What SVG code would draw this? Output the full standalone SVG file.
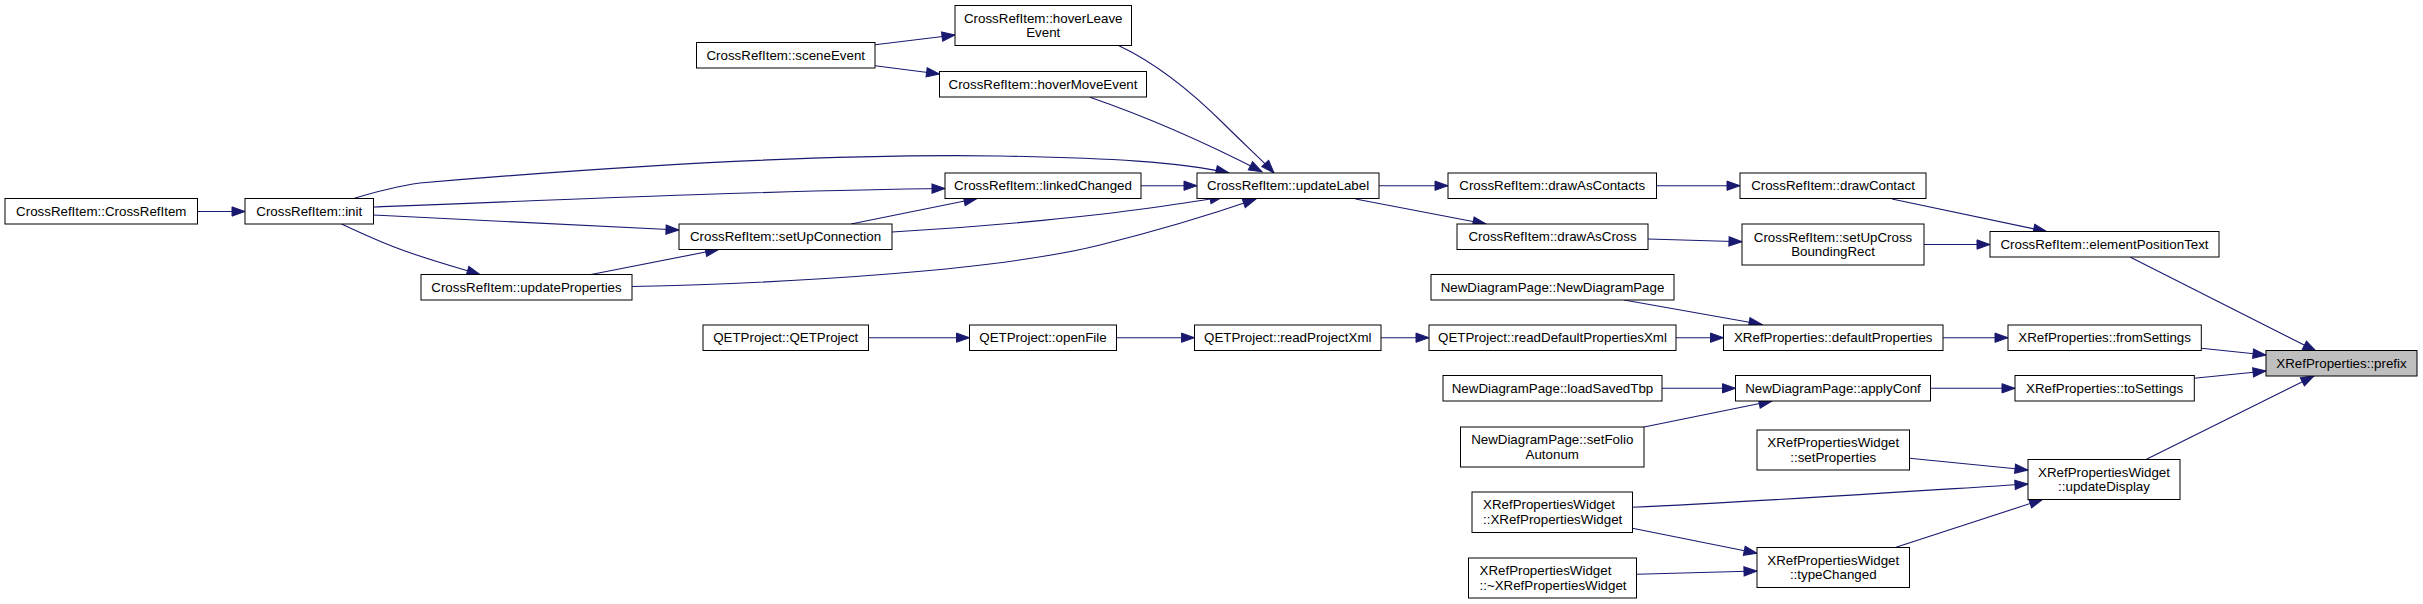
<svg xmlns="http://www.w3.org/2000/svg" width="2423" height="604" viewBox="0 0 2423 604">
<style>
.n rect{fill:#fff;stroke:#000;stroke-width:1}
.n.hl rect{fill:#bfbfbf}
.n text{font-family:"Liberation Sans",Arial,sans-serif;font-size:13.33px;fill:#000;text-anchor:middle}
.n text.l{text-anchor:start}
.e path{fill:none;stroke:#191970;stroke-width:1.1;marker-end:url(#ah)}
</style>
<defs>
<marker id="ah" markerUnits="userSpaceOnUse" markerWidth="14" markerHeight="10" viewBox="0 0 14 10" refX="13" refY="4.65" orient="auto" overflow="visible">
<path d="M0,0 L13,4.65 L0,9.3 z" fill="#191970" stroke="#191970" stroke-width="1"/>
</marker>
</defs>
<rect width="2423" height="604" fill="#fff"/>
<g id="edges" class="e">
<path d="M197.5,211.5 L245,211.5"/>
<path d="M352,199 C375,192 398,186 420,183 C560,171 800,153 1000,156 C1110,158 1180,162 1229,173"/>
<path d="M373.5,207 C600,198 800,190 945,188.5"/>
<path d="M373.5,215 C520,222 620,228 679,230"/>
<path d="M341.5,224 C365,235 385,244 405,251 C430,260 455,267 480,274.5"/>
<path d="M591,274.5 L718.5,249.5"/>
<path d="M632,286.5 C800,283 1000,270 1100,245 C1180,225 1230,208 1256,199"/>
<path d="M851,224 L977,198.5"/>
<path d="M892,232 C1000,226 1100,215 1150,208 C1185,203 1205,200 1223,196.7"/>
<path d="M1141,185.7 L1197,185.7"/>
<path d="M875,44.7 L955,35"/>
<path d="M875,65.7 L939.5,74"/>
<path d="M1119,45.7 C1160,65 1195,95 1225,125 C1245,145 1262,160 1274,173"/>
<path d="M1090,97.3 C1150,118 1210,145 1262,171.7"/>
<path d="M1379,185.7 L1448,185.7"/>
<path d="M1355.5,199 L1486,224"/>
<path d="M1656.5,185.7 L1740,185.7"/>
<path d="M1648,239 L1742,241.7"/>
<path d="M1892,199 L2046.5,231.5"/>
<path d="M1924,244.5 L1990,244.5"/>
<path d="M2130.5,257.3 L2316,351"/>
<path d="M868.5,337.7 L969.5,337.7"/>
<path d="M1116.5,337.7 L1194.5,337.7"/>
<path d="M1381,337.7 L1429,337.7"/>
<path d="M1676,337.7 L1723.5,337.7"/>
<path d="M1624,300 L1762,324.5"/>
<path d="M1943,337.7 L2008,337.7"/>
<path d="M2201.3,348.3 L2266,355"/>
<path d="M2194.3,378.3 L2266,371"/>
<path d="M1662,388.3 L1735.5,388.3"/>
<path d="M1644,427 L1772,401"/>
<path d="M1930.5,388.3 L2015,388.3"/>
<path d="M1909.5,458.3 L2028,470"/>
<path d="M1632.5,507.3 C1750,502 1900,492 2028,484"/>
<path d="M1632.5,528.3 L1757,553.3"/>
<path d="M1636.5,574.3 L1757,571"/>
<path d="M1896,547.3 L2042.5,499.5"/>
<path d="M2146,459.5 L2314,376"/>
</g>
<g id="n_crossrefitem" class="n"><rect x="5" y="198.5" width="192.5" height="25.5"/><text x="101.25" y="215.8">CrossRefItem::CrossRefItem</text></g>
<g id="n_init" class="n"><rect x="245" y="198.5" width="128.5" height="25.5"/><text x="309.25" y="215.8">CrossRefItem::init</text></g>
<g id="n_updateproperties" class="n"><rect x="421" y="274.5" width="211" height="25.5"/><text x="526.5" y="291.8">CrossRefItem::updateProperties</text></g>
<g id="n_sceneevent" class="n"><rect x="696.5" y="42.5" width="178.5" height="25.5"/><text x="785.75" y="59.8">CrossRefItem::sceneEvent</text></g>
<g id="n_hoverleave" class="n"><rect x="955" y="5.5" width="176.5" height="40"/><text x="1043.25" y="22.5">CrossRefItem::hoverLeave</text><text x="1043.25" y="37.2">Event</text></g>
<g id="n_hovermove" class="n"><rect x="939.5" y="71.5" width="207" height="25.5"/><text x="1043" y="88.8">CrossRefItem::hoverMoveEvent</text></g>
<g id="n_linkedchanged" class="n"><rect x="945" y="173" width="196" height="25.5"/><text x="1043" y="190.3">CrossRefItem::linkedChanged</text></g>
<g id="n_setupconnection" class="n"><rect x="679" y="224" width="213" height="25.5"/><text x="785.5" y="241.3">CrossRefItem::setUpConnection</text></g>
<g id="n_updatelabel" class="n"><rect x="1197" y="173" width="182" height="25.5"/><text x="1288" y="190.3">CrossRefItem::updateLabel</text></g>
<g id="n_drawascontacts" class="n"><rect x="1448" y="173" width="208.5" height="25.5"/><text x="1552.25" y="190.3">CrossRefItem::drawAsContacts</text></g>
<g id="n_drawascross" class="n"><rect x="1457" y="224" width="191" height="25.5"/><text x="1552.5" y="241.3">CrossRefItem::drawAsCross</text></g>
<g id="n_newdiagrampage" class="n"><rect x="1431" y="274.5" width="243" height="25.5"/><text x="1552.5" y="291.8">NewDiagramPage::NewDiagramPage</text></g>
<g id="n_drawcontact" class="n"><rect x="1740" y="173" width="186" height="25.5"/><text x="1833" y="190.3">CrossRefItem::drawContact</text></g>
<g id="n_setupcross" class="n"><rect x="1742" y="224" width="182" height="41"/><text x="1833" y="241.5">CrossRefItem::setUpCross</text><text x="1833" y="256.2">BoundingRect</text></g>
<g id="n_elementpositiontext" class="n"><rect x="1990" y="231.5" width="229" height="25.5"/><text x="2104.5" y="248.8">CrossRefItem::elementPositionText</text></g>
<g id="n_qetproject" class="n"><rect x="703" y="325" width="165.5" height="25.5"/><text x="785.75" y="342.3">QETProject::QETProject</text></g>
<g id="n_openfile" class="n"><rect x="969.5" y="325" width="147" height="25.5"/><text x="1043" y="342.3">QETProject::openFile</text></g>
<g id="n_readprojectxml" class="n"><rect x="1194.5" y="325" width="186.5" height="25.5"/><text x="1287.75" y="342.3">QETProject::readProjectXml</text></g>
<g id="n_readdefault" class="n"><rect x="1429" y="325" width="247" height="25.5"/><text x="1552.5" y="342.3">QETProject::readDefaultPropertiesXml</text></g>
<g id="n_defaultproperties" class="n"><rect x="1723.5" y="325" width="219.5" height="25.5"/><text x="1833.25" y="342.3">XRefProperties::defaultProperties</text></g>
<g id="n_fromsettings" class="n"><rect x="2008" y="325" width="193.3" height="25.5"/><text x="2104.65" y="342.3">XRefProperties::fromSettings</text></g>
<g id="n_prefix" class="n hl"><rect x="2266" y="350.5" width="151" height="25.5"/><text x="2341.5" y="367.8">XRefProperties::prefix</text></g>
<g id="n_loadsavedtbp" class="n"><rect x="1443" y="375.5" width="219" height="25.5"/><text x="1552.5" y="392.8">NewDiagramPage::loadSavedTbp</text></g>
<g id="n_applyconf" class="n"><rect x="1735.5" y="375.5" width="195" height="25.5"/><text x="1833" y="392.8">NewDiagramPage::applyConf</text></g>
<g id="n_tosettings" class="n"><rect x="2015" y="375.5" width="179.3" height="25.5"/><text x="2104.65" y="392.8">XRefProperties::toSettings</text></g>
<g id="n_setfolioautonum" class="n"><rect x="1460.5" y="427" width="183.5" height="40"/><text x="1552.25" y="444">NewDiagramPage::setFolio</text><text x="1552.25" y="458.7">Autonum</text></g>
<g id="n_setproperties" class="n"><rect x="1757" y="430" width="152.5" height="40"/><text x="1833.25" y="447">XRefPropertiesWidget</text><text x="1833.25" y="461.7">::setProperties</text></g>
<g id="n_updatedisplay" class="n"><rect x="2028" y="459.5" width="152" height="40"/><text x="2104" y="476.5">XRefPropertiesWidget</text><text x="2104" y="491.2">::updateDisplay</text></g>
<g id="n_xrpwctor" class="n"><rect x="1472" y="492" width="160.5" height="40.5"/><text class="l" x="1483" y="509.2">XRefPropertiesWidget</text><text class="l" x="1483" y="523.9">::XRefPropertiesWidget</text></g>
<g id="n_typechanged" class="n"><rect x="1757" y="547.5" width="152.5" height="40"/><text x="1833.25" y="564.5">XRefPropertiesWidget</text><text x="1833.25" y="579.2">::typeChanged</text></g>
<g id="n_xrpwdtor" class="n"><rect x="1468.5" y="558" width="168" height="40"/><text class="l" x="1479.5" y="575">XRefPropertiesWidget</text><text class="l" x="1479.5" y="589.7">::~XRefPropertiesWidget</text></g>
</svg>
